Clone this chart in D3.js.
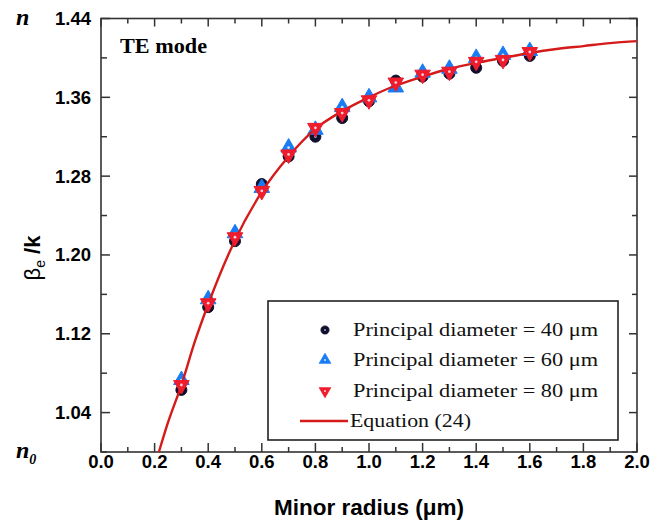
<!DOCTYPE html>
<html>
<head>
<meta charset="utf-8">
<script src="https://cdn.jsdelivr.net/npm/d3@7"></script>
<style>
  body { margin: 0; background: #fff; }
  svg { display: block; }
</style>
</head>
<body>
<div id="d3"></div>
<script>
// minor radius (um)
var radius = [0.3, 0.4, 0.5, 0.6, 0.7, 0.8, 0.9, 1.0, 1.1, 1.2, 1.3, 1.4, 1.5, 1.6];
// beta_e/k for each principal diameter
var d40 = [1.063, 1.147, 1.214, 1.272, 1.300, 1.320, 1.339, 1.356, 1.377, 1.381, 1.384, 1.390, 1.397, 1.402];
var d60 = [1.073, 1.155, 1.222, 1.268, 1.309, 1.327, 1.350, 1.360, 1.370, 1.385, 1.389, 1.400, 1.403, 1.407];
var d80 = [1.068, 1.151, 1.218, 1.265, 1.302, 1.329, 1.344, 1.357, 1.375, 1.383, 1.386, 1.396, 1.398, 1.406];
// Equation (24)
var eqX = [0.216, 0.25, 0.3, 0.35, 0.4, 0.5, 0.6, 0.7, 0.8, 0.9, 1.0, 1.1, 1.2, 1.3, 1.4, 1.5, 1.6, 1.7, 1.8, 1.9, 2.0];
var eqY = [1.000, 1.030, 1.068, 1.112, 1.150, 1.215, 1.264, 1.300, 1.328, 1.346, 1.360, 1.372, 1.381, 1.389, 1.395, 1.400, 1.405, 1.409, 1.412, 1.415, 1.417];
var xTicks = [0.0, 0.2, 0.4, 0.6, 0.8, 1.0, 1.2, 1.4, 1.6, 1.8, 2.0];
var yTicks = [1.04, 1.12, 1.20, 1.28, 1.36, 1.44];
var legendLabels = ["Principal diameter = 40 \u03bcm", "Principal diameter = 60 \u03bcm", "Principal diameter = 80 \u03bcm", "Equation (24)"];

var W = 663, H = 520;
var L = 101, R = 637, T = 18.5, B = 452;

var svg = d3.select("#d3").append("svg")
    .attr("width", W).attr("height", H);

var x = d3.scaleLinear().domain([0, 2]).range([L, R]);
var y = d3.scaleLinear().domain([1.0, 1.44]).range([B, T]);

var axisCol = "#333";
var sans = "Liberation Sans, Arial, sans-serif";
var serif = "Liberation Serif, Times New Roman, serif";

// ticks (inward on all four sides)
var xMinor = d3.range(0.1, 2.0, 0.2);
var yMinor = [1.0, 1.08, 1.16, 1.24, 1.32, 1.40];

function tickSet(vals, len, dir, side) {
    svg.append("g").selectAll("line").data(vals).enter().append("line")
        .attr("x1", function(d) { return side === "x" ? x(d) : (dir > 0 ? L : R); })
        .attr("x2", function(d) { return side === "x" ? x(d) : (dir > 0 ? L + len : R - len); })
        .attr("y1", function(d) { return side === "x" ? (dir > 0 ? B : T) : y(d); })
        .attr("y2", function(d) { return side === "x" ? (dir > 0 ? B - len : T + len) : y(d); })
        .attr("stroke", axisCol).attr("stroke-width", 1.5);
}
tickSet(xTicks, 9, 1, "x");
tickSet(xMinor, 5, 1, "x");
tickSet(xTicks, 8, -1, "x");
tickSet(xMinor, 5, -1, "x");
tickSet(yTicks, 9, 1, "y");
tickSet(yMinor, 6, 1, "y");
tickSet(yTicks, 8, -1, "y");
tickSet(yMinor, 5, -1, "y");

svg.append("rect")
    .attr("x", L).attr("y", T).attr("width", R - L).attr("height", B - T)
    .attr("fill", "none").attr("stroke", axisCol).attr("stroke-width", 1.6);

// tick labels
svg.append("g").selectAll("text").data(xTicks).enter().append("text")
    .attr("x", function(d) { return x(d); })
    .attr("y", 468)
    .attr("text-anchor", "middle")
    .attr("font-family", sans).attr("font-weight", "bold").attr("font-size", "18.5px")
    .text(function(d) { return d3.format(".1f")(d); });

svg.append("g").selectAll("text").data(yTicks).enter().append("text")
    .attr("x", 91)
    .attr("y", function(d) { return y(d) + 6.5; })
    .attr("text-anchor", "end")
    .attr("font-family", sans).attr("font-weight", "bold").attr("font-size", "18.5px")
    .text(function(d) { return d3.format(".2f")(d); });

// n and n0
svg.append("text")
    .attr("x", 16).attr("y", 25)
    .attr("font-family", serif).attr("font-style", "italic").attr("font-weight", "bold")
    .attr("font-size", "24px")
    .text("n");
var n0 = svg.append("text")
    .attr("x", 16).attr("y", 458)
    .attr("font-family", serif).attr("font-style", "italic").attr("font-weight", "bold")
    .attr("font-size", "24px")
    .text("n");
n0.append("tspan").attr("dy", 6).attr("font-size", "14px").text("0");

// axis titles
svg.append("text")
    .attr("x", (L + R) / 2).attr("y", 515)
    .attr("text-anchor", "middle")
    .attr("font-family", sans).attr("font-weight", "bold").attr("font-size", "22.5px")
    .text("Minor radius (\u03bcm)");

var yt = svg.append("text")
    .attr("transform", "translate(40,258) rotate(-90)")
    .attr("text-anchor", "middle")
    .attr("font-family", sans).attr("font-size", "22px");
yt.append("tspan").text("\u03b2");
yt.append("tspan").attr("dy", 5).attr("font-size", "14px").text("e");
yt.append("tspan").attr("dy", -5).attr("font-weight", "bold").text(" /k");

// TE mode
svg.append("text")
    .attr("x", 120).attr("y", 53)
    .attr("font-family", serif).attr("font-weight", "bold").attr("font-size", "20px")
    .attr("textLength", 87).attr("lengthAdjust", "spacingAndGlyphs")
    .text("TE mode");

// markers
var sCircle = d3.symbol().type(d3.symbolCircle).size(95);
var sTri = d3.symbol().type(d3.symbolTriangle).size(105);
var sDot = d3.symbol().type(d3.symbolCircle).size(6);

var styles = [
    { vals: d40, path: sCircle(), rot: 0, col: "#10102e", inner: "#9aa0c8" },
    { vals: d60, path: sTri(), rot: 0, col: "#1a7cf5", inner: "#cde4ff" },
    { vals: d80, path: sTri(), rot: 180, col: "#ee1c2c", inner: "#ffd0d8" }
];

var plot = svg.append("g");

// equation line
var line = d3.line()
    .x(function(d, i) { return x(eqX[i]); })
    .y(function(d) { return y(d); })
    .curve(d3.curveMonotoneX);

function drawMarker(g, s, tr, k) {
    g.append("path").attr("d", s.path)
        .attr("transform", tr + " scale(" + k + ") rotate(" + s.rot + ")")
        .attr("fill", s.col).attr("stroke", s.col).attr("stroke-width", 1)
        .attr("stroke-linejoin", "round");
    g.append("path").attr("d", sDot())
        .attr("transform", tr + " scale(" + k + ")")
        .attr("fill", s.inner);
}

styles.forEach(function(s, k) {
    var gs = plot.append("g");
    s.vals.forEach(function(d, i) {
        drawMarker(gs, s, "translate(" + x(radius[i]) + "," + y(d) + ")", 1);
    });
    if (k === 1) {
        plot.append("path").datum(eqY)
            .attr("d", line)
            .attr("fill", "none").attr("stroke", "#d51a1a").attr("stroke-width", 2.4);
    }
});

// legend
svg.append("rect")
    .attr("x", 268).attr("y", 301).attr("width", 350).attr("height", 139)
    .attr("fill", "#fff").attr("stroke", "#222").attr("stroke-width", 1.6);

var legY = [330, 360, 391, 421];
styles.forEach(function(s, i) {
    drawMarker(svg, s, "translate(325," + legY[i] + ")", 0.75);
});
svg.append("line")
    .attr("x1", 300).attr("x2", 348).attr("y1", legY[3]).attr("y2", legY[3])
    .attr("stroke", "#d51a1a").attr("stroke-width", 2.4);

var legLen = [245, 245, 245, 121];
svg.append("g").selectAll("text").data(legendLabels).enter().append("text")
    .attr("x", function(d, i) { return i === 3 ? 350 : 353; })
    .attr("y", function(d, i) { return legY[i] + 6; })
    .attr("font-family", serif).attr("font-size", "19.5px")
    .attr("textLength", function(d, i) { return legLen[i]; })
    .attr("lengthAdjust", "spacingAndGlyphs")
    .attr("fill", "#111")
    .text(function(d) { return d; });

d3.select("#d3").style("height", "520px");
</script>
</body>
</html>
